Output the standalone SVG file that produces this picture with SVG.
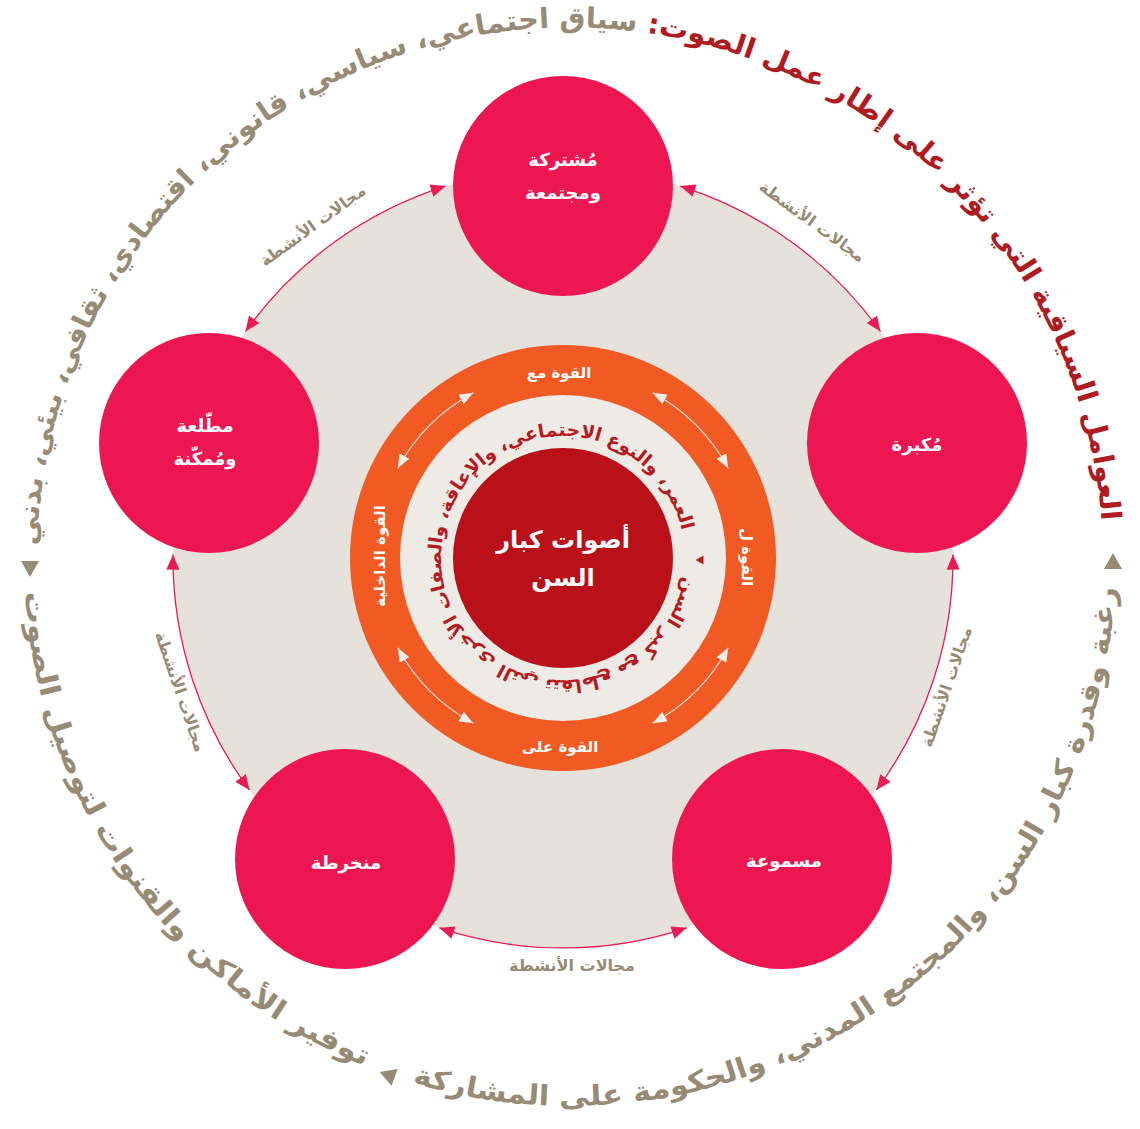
<svg xmlns="http://www.w3.org/2000/svg" width="1140" height="1129" viewBox="0 0 1140 1129">
<style>
text{font-family:"DejaVu Sans",sans-serif;font-weight:bold}
.node{fill:#EE1651}
.ntext{fill:#FFFFFF;font-size:18px;text-anchor:middle;direction:rtl}
.lbl{fill:#978B75;font-size:16px;text-anchor:middle;direction:rtl}
.ring{fill:#FFFFFF;font-size:15px;text-anchor:middle;direction:rtl}
.conn{fill:none;stroke:#EC1A52;stroke-width:1.3;marker-start:url(#ah);marker-end:url(#ah)}
.warr{fill:none;stroke:#FFFFFF;stroke-opacity:0.85;stroke-width:1.1;marker-start:url(#wh);marker-end:url(#wh)}
.outer{font-size:28px;direction:rtl;text-anchor:middle}
.gray{fill:#978B75}
.red{fill:#B01B21}
</style>
<defs>
<marker id="ah" markerWidth="15" markerHeight="13" refX="15" refY="6.5" orient="auto-start-reverse" markerUnits="userSpaceOnUse"><path d="M0,0 L15,6.5 L0,13 z" fill="#EC1A52"/></marker>
<marker id="wh" markerWidth="14" markerHeight="11" refX="14" refY="5.5" orient="auto-start-reverse" markerUnits="userSpaceOnUse"><path d="M0,0 L14,5.5 L0,11 z" fill="#F4EEEA"/></marker>
<path id="outerTop" d="M39.0,606.5 A533,533 0 1 1 1101.0,606.5"/>
<path id="outerBot" d="M26.07,512.41 A546,546 0 1 0 1113.93,512.41"/>
<path id="innerCirc" d="M685,558 A122,122 0 1 1 441,558 A122,122 0 1 1 685,558"/>
<path id="tri" d="M-9,7 L9,7 L0,-9 z"/>
</defs>

<!-- background disc -->
<circle cx="563" cy="558" r="390" fill="#E6E1DB"/>

<!-- outer circular text -->
<g id="outer-text">
<text class="outer"><textPath href="#outerTop" startOffset="49.3%" textLength="1620" lengthAdjust="spacingAndGlyphs"><tspan class="red">العوامل السياقية التي تؤثر على إطار عمل الصوت:</tspan><tspan class="gray"> سياق اجتماعي، سياسي، قانوني، اقتصادي، ثقافي، بيئي، بدني</tspan></textPath></text>
<text class="outer gray"><textPath href="#outerBot" startOffset="68.5%" textLength="990" lengthAdjust="spacingAndGlyphs">رغبة وقدرة كبار السن، والمجتمع المدني، والحكومة على المشاركة</textPath></text>
<text class="outer gray"><textPath href="#outerBot" startOffset="21.4%" textLength="615" lengthAdjust="spacingAndGlyphs">توفير الأماكن والقنوات لتوصيل الصوت</textPath></text>
<use href="#tri" fill="#978B75" transform="translate(1113,562)"/>
<use href="#tri" fill="#978B75" transform="translate(30,568) rotate(180)"/>
<use href="#tri" fill="#978B75" transform="translate(388,1075) rotate(-70)"/>
</g>

<!-- connectors -->
<g id="connectors">
<path class="conn" d="M680.3,186.1 A390,390 0 0 1 880.5,331.5"/>
<path class="conn" d="M953.0,554.6 A390,390 0 0 1 876.5,790.0"/>
<path class="conn" d="M686.7,927.8 A390,390 0 0 1 439.3,927.8"/>
<path class="conn" d="M249.5,790.0 A390,390 0 0 1 173.0,554.6"/>
<path class="conn" d="M245.5,331.5 A390,390 0 0 1 445.7,186.1"/>
<text class="lbl" transform="translate(812,222) rotate(36)" y="5">مجالات الأنشطة</text>
<text class="lbl" transform="translate(947,687) rotate(-71)" y="5">مجالات الأنشطة</text>
<text class="lbl" transform="translate(572,966)" y="5">مجالات الأنشطة</text>
<text class="lbl" transform="translate(180,692) rotate(71)" y="5">مجالات الأنشطة</text>
<text class="lbl" transform="translate(313,226) rotate(-36)" y="5">مجالات الأنشطة</text>
</g>

<!-- central rings -->
<g id="node-core">
<circle cx="563" cy="558" r="213" fill="#F15A22"/>
<circle cx="563" cy="558" r="163" fill="#EEEAE5"/>
<circle cx="563" cy="558" r="110" fill="#BA1019"/>
<text style="font-size:18.5px;direction:rtl;text-anchor:middle" fill="#B51A1F"><textPath href="#innerCirc" startOffset="49.4%" textLength="720" lengthAdjust="spacingAndGlyphs">العمر، والنوع الاجتماعي، والإعاقة، والصفات الأخرى التي تتقاطع مع كبر السن</textPath></text>
<use href="#tri" fill="#B51A1F" transform="translate(700,560) rotate(-90) scale(0.5)"/>
<text class="ntext" x="563" y="548" style="font-size:24px">أصوات كبار</text>
<text class="ntext" x="563" y="586" style="font-size:24px">السن</text>
<text class="ring" x="559" y="378">القوة مع</text>
<text class="ring" x="560" y="752">القوة على</text>
<text class="ring" transform="translate(380,556) rotate(-90)" y="5">القوة الداخلية</text>
<text class="ring" transform="translate(747,557) rotate(90)" y="5">القوة ل</text>
<path class="warr" d="M397.8,468.3 A188,188 0 0 1 473.3,392.8"/>
<path class="warr" d="M652.7,392.8 A188,188 0 0 1 728.2,468.3"/>
<path class="warr" d="M728.2,647.7 A188,188 0 0 1 652.7,723.2"/>
<path class="warr" d="M473.3,723.2 A188,188 0 0 1 397.8,647.7"/>
</g>

<!-- nodes -->
<g id="node-top">
<circle class="node" cx="563" cy="186" r="110"/>
<text class="ntext" x="563" y="166">مُشتركة</text>
<text class="ntext" x="563" y="199">ومجتمعة</text>
</g>
<g id="node-right">
<circle class="node" cx="917" cy="443" r="110"/>
<text class="ntext" x="917" y="451">مُكبرة</text>
</g>
<g id="node-bottom-right">
<circle class="node" cx="782" cy="859" r="110"/>
<text class="ntext" x="784" y="867">مسموعة</text>
</g>
<g id="node-bottom-left">
<circle class="node" cx="345" cy="859" r="110"/>
<text class="ntext" x="346" y="869">منخرطة</text>
</g>
<g id="node-left">
<circle class="node" cx="209" cy="443" r="110"/>
<text class="ntext" x="205" y="432">مطّلعة</text>
<text class="ntext" x="205" y="465">ومُمكّنة</text>
</g>
</svg>
